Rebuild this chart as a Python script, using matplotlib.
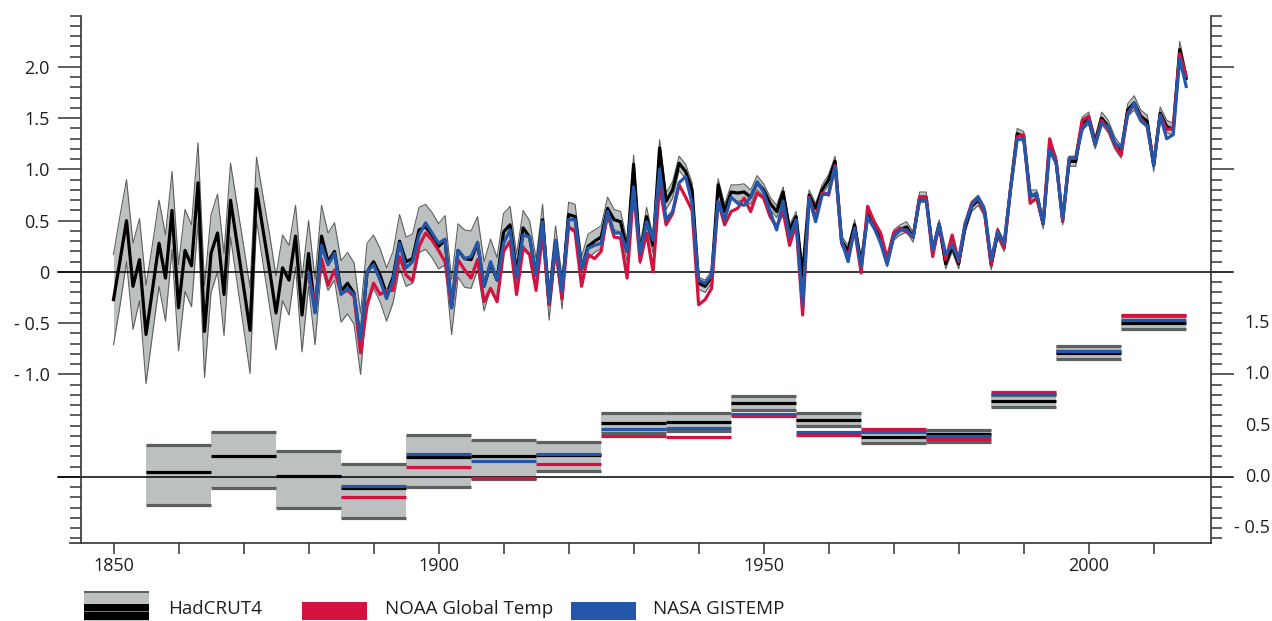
import matplotlib
matplotlib.use("Agg")
import matplotlib.pyplot as plt
import numpy as np
from matplotlib.patches import Rectangle
from matplotlib.ticker import FixedLocator, MultipleLocator, NullFormatter, FixedFormatter

plt.rcParams['font.family'] = ['Open Sans', 'DejaVu Sans']

# ---- annual anomalies (upper panel) ----
had_years = np.arange(1850, 2016)
hadcrut = [
    -0.27, 0.11, 0.50, -0.14, 0.12, -0.61, -0.17, 0.28, -0.06, 0.60,
    -0.35, 0.21, 0.06, 0.87, -0.58, 0.18, 0.38, -0.22, 0.70, 0.28,
    -0.14, -0.57, 0.81, 0.41, 0.02, -0.40, 0.04, -0.08, 0.35, -0.42,
    0.18, -0.39, 0.35, 0.10, 0.20, -0.19, -0.11, -0.21, -0.70, 0.00,
    0.10, -0.03, -0.22, -0.05, 0.30, 0.10, 0.13, 0.41, 0.44, 0.36,
    0.25, 0.31, -0.34, 0.21, 0.13, 0.12, 0.28, -0.14, 0.08, -0.08,
    0.39, 0.46, -0.01, 0.43, 0.34, -0.03, 0.51, -0.31, 0.30, -0.21,
    0.56, 0.54, 0.03, 0.25, 0.30, 0.34, 0.62, 0.51, 0.49, 0.20,
    1.05, 0.17, 0.54, 0.26, 1.21, 0.69, 0.80, 1.06, 0.98, 0.80,
    -0.11, -0.14, -0.05, 0.85, 0.59, 0.78, 0.77, 0.78, 0.73, 0.87,
    0.80, 0.67, 0.59, 0.78, 0.41, 0.54, -0.03, 0.75, 0.62, 0.80,
    0.90, 1.08, 0.30, 0.21, 0.46, 0.08, 0.56, 0.46, 0.34, 0.10,
    0.36, 0.41, 0.44, 0.34, 0.73, 0.73, 0.20, 0.46, 0.08, 0.25,
    0.08, 0.44, 0.64, 0.70, 0.59, 0.07, 0.38, 0.25, 0.82, 1.35,
    1.32, 0.75, 0.75, 0.47, 1.24, 1.08, 0.51, 1.08, 1.08, 1.45,
    1.50, 1.26, 1.50, 1.42, 1.26, 1.17, 1.58, 1.65, 1.52, 1.47,
    1.04, 1.55, 1.42, 1.39, 2.17, 1.89,
]
# half width of the HadCRUT4 uncertainty band
had_unc = [
    0.44, 0.44, 0.40, 0.42, 0.40, 0.48, 0.44, 0.42, 0.42, 0.38,
    0.42, 0.40, 0.40, 0.39, 0.45, 0.38, 0.38, 0.40, 0.36, 0.38,
    0.40, 0.42, 0.31, 0.33, 0.35, 0.36, 0.32, 0.34, 0.30, 0.36,
    0.32, 0.32, 0.30, 0.28, 0.28, 0.30, 0.30, 0.30, 0.30, 0.28,
    0.26, 0.26, 0.26, 0.25, 0.26, 0.24, 0.24, 0.22, 0.22, 0.22,
    0.22, 0.24, 0.27, 0.26, 0.28, 0.28, 0.26, 0.24, 0.24, 0.22,
    0.18, 0.18, 0.18, 0.17, 0.16, 0.16, 0.15, 0.16, 0.15, 0.15,
    0.12, 0.12, 0.12, 0.12, 0.11, 0.11, 0.11, 0.10, 0.10, 0.10,
    0.09, 0.09, 0.09, 0.08, 0.08, 0.08, 0.08, 0.07, 0.07, 0.07,
    0.06, 0.06, 0.06, 0.06, 0.07, 0.07, 0.08, 0.08, 0.07, 0.07,
    0.06, 0.06, 0.06, 0.05, 0.05, 0.05, 0.05, 0.05, 0.05, 0.05,
    0.05, 0.05, 0.05, 0.05, 0.05, 0.05, 0.05, 0.05, 0.05, 0.05,
    0.05, 0.05, 0.05, 0.05, 0.05, 0.05, 0.05, 0.05, 0.05, 0.05,
    0.05, 0.05, 0.05, 0.05, 0.05, 0.05, 0.05, 0.05, 0.05, 0.05,
    0.05, 0.05, 0.05, 0.05, 0.05, 0.05, 0.05, 0.05, 0.05, 0.06,
    0.06, 0.06, 0.06, 0.06, 0.06, 0.06, 0.06, 0.07, 0.06, 0.06,
    0.06, 0.06, 0.06, 0.06, 0.08, 0.06,
]

gis_years = np.arange(1880, 2016)
noaa = [
    -0.05, -0.30, 0.13, -0.13, 0.02, -0.21, -0.18, -0.24, -0.79, -0.33,
    -0.11, -0.22, -0.18, -0.18, 0.15, -0.03, -0.09, 0.25, 0.38, 0.31,
    0.21, 0.10, -0.35, 0.12, 0.02, -0.06, 0.12, -0.29, -0.16, -0.29,
    0.20, 0.30, -0.22, 0.23, 0.17, -0.18, 0.38, -0.32, 0.25, -0.26,
    0.44, 0.39, -0.14, 0.17, 0.13, 0.20, 0.57, 0.34, 0.33, -0.06,
    0.80, 0.10, 0.38, 0.00, 0.85, 0.46, 0.57, 0.85, 0.73, 0.60,
    -0.32, -0.27, -0.16, 0.69, 0.46, 0.59, 0.62, 0.72, 0.59, 0.77,
    0.72, 0.54, 0.44, 0.59, 0.26, 0.47, -0.42, 0.73, 0.52, 0.77,
    0.75, 1.04, 0.28, 0.15, 0.41, -0.01, 0.64, 0.49, 0.38, 0.13,
    0.38, 0.43, 0.39, 0.34, 0.73, 0.73, 0.15, 0.47, 0.12, 0.36,
    0.10, 0.47, 0.67, 0.72, 0.57, 0.07, 0.41, 0.23, 0.82, 1.32,
    1.34, 0.67, 0.72, 0.47, 1.30, 1.08, 0.49, 1.11, 1.11, 1.48,
    1.52, 1.24, 1.48, 1.39, 1.24, 1.14, 1.55, 1.63, 1.50, 1.42,
    1.06, 1.53, 1.39, 1.40, 2.13, 1.91,
]
nasa = [
    -0.01, -0.40, 0.26, 0.07, 0.18, -0.22, -0.16, -0.22, -0.66, 0.00,
    0.07, -0.08, -0.26, -0.08, 0.28, 0.04, 0.10, 0.36, 0.48, 0.38,
    0.28, 0.32, -0.35, 0.21, 0.13, 0.15, 0.29, -0.14, 0.10, -0.08,
    0.28, 0.41, -0.06, 0.36, 0.34, -0.03, 0.49, -0.29, 0.31, -0.19,
    0.51, 0.51, 0.03, 0.23, 0.26, 0.28, 0.59, 0.38, 0.38, 0.20,
    0.83, 0.18, 0.49, 0.31, 1.00, 0.51, 0.59, 0.87, 0.93, 0.67,
    -0.08, -0.11, -0.03, 0.69, 0.51, 0.73, 0.67, 0.65, 0.73, 0.88,
    0.78, 0.59, 0.41, 0.69, 0.34, 0.51, -0.32, 0.72, 0.49, 0.75,
    0.77, 1.03, 0.30, 0.10, 0.43, 0.05, 0.54, 0.43, 0.28, 0.07,
    0.34, 0.41, 0.41, 0.34, 0.70, 0.70, 0.21, 0.47, 0.17, 0.26,
    0.12, 0.47, 0.65, 0.73, 0.60, 0.12, 0.39, 0.28, 0.82, 1.29,
    1.30, 0.73, 0.77, 0.47, 1.19, 1.06, 0.51, 1.11, 1.11, 1.39,
    1.48, 1.24, 1.45, 1.42, 1.26, 1.21, 1.53, 1.65, 1.48, 1.43,
    1.04, 1.53, 1.30, 1.34, 2.08, 1.81,
]

# ---- decadal means (lower panel, right-hand scale) ----
dec_start = np.arange(1855, 2015, 10)
had_dec = [0.05, 0.20, 0.01, -0.11, 0.19, 0.20, 0.21, 0.53, 0.54, 0.72, 0.56, 0.39, 0.42, 0.74, 1.21, 1.50]
had_dec_lo = [-0.27, -0.11, -0.30, -0.40, -0.10, -0.02, 0.06, 0.43, 0.45, 0.65, 0.50, 0.33, 0.34, 0.68, 1.15, 1.44]
had_dec_hi = [0.31, 0.44, 0.25, 0.13, 0.41, 0.36, 0.34, 0.62, 0.62, 0.79, 0.62, 0.45, 0.46, 0.80, 1.28, 1.57]
gis_dec_start = np.arange(1885, 2015, 10)
noaa_dec = [-0.20, 0.10, -0.01, 0.13, 0.40, 0.39, 0.59, 0.41, 0.47, 0.37, 0.83, 1.23, 1.58]
nasa_dec = [-0.09, 0.22, 0.16, 0.22, 0.47, 0.48, 0.61, 0.44, 0.44, 0.40, 0.81, 1.23, 1.53]

right_ticks = [1.5, 1.0, 0.5, 0.0, -0.5]
right_labels = ['1.5', '1.0', '0.5', '0.0', '- 0.5']
left_ticks = [2.0, 1.5, 1.0, 0.5, 0.0, -0.5, -1.0, -2.0]
left_labels = ['2.0', '1.5', '1.0', '0.5', '0', '- 0.5', '- 1.0', '']

offset = -2.0   # lower panel sits 2 units below the upper one

RED = '#d4123f'
BLUE = '#2457a9'
BAND = '#bdc0c0'
EDGE = '#5d6060'
TICK = '#333333'
TXT = '#1e1e1e'
W, H = 1272, 621

fig = plt.figure(figsize=(W / 100, H / 100), dpi=100)
ax = fig.add_axes([81 / W, 78 / H, 1129.7 / W, 527.25 / H])
ax.set_xlim(1845.0, 2018.77)
ax.set_ylim(-2.645, 2.5)

had = np.array(hadcrut)
unc = np.array(had_unc)

# annual band and lines
ax.fill_between(had_years, had - unc, had + unc, color=BAND, lw=0, zorder=1)
ax.plot(had_years, had + unc, color=EDGE, lw=0.8, zorder=1.5)
ax.plot(had_years, had - unc, color=EDGE, lw=0.8, zorder=1.5)
ax.plot(had_years, had, color='black', lw=2.3, zorder=3)
ax.plot(gis_years, noaa, color=RED, lw=2.3, zorder=4)
ax.plot(gis_years, nasa, color=BLUE, lw=2.3, zorder=5)

# decadal boxes
lo = np.array(had_dec_lo) + offset
hi = np.array(had_dec_hi) + offset
for s, l, h in zip(dec_start, lo, hi):
    ax.fill_between([s, s + 10], l, h, color=BAND, lw=0, zorder=1)
ax.hlines(lo, dec_start, dec_start + 10, color=EDGE, lw=2.3, zorder=2)
ax.hlines(hi, dec_start, dec_start + 10, color=EDGE, lw=2.3, zorder=2)
ax.hlines(np.array(had_dec) + offset, dec_start, dec_start + 10, color='black', lw=2.3, zorder=3)
ax.hlines(np.array(noaa_dec) + offset, gis_dec_start, gis_dec_start + 10, color=RED, lw=2.3, zorder=4)
ax.hlines(np.array(nasa_dec) + offset, gis_dec_start, gis_dec_start + 10, color=BLUE, lw=2.3, zorder=5)

# zero lines of both panels, reaching across the tick marks
for y0 in (0.0, offset):
    ax.plot([-0.0204, 1.019], [y0, y0], color='black', lw=1.1, zorder=1.8,
            transform=ax.get_yaxis_transform(), clip_on=False)
# bottom axis line, running a little past the left spine
ax.plot([-0.0097, 1.0], [0, 0], color=TICK, lw=1.2, transform=ax.transAxes, clip_on=False, zorder=6)

for side in ('top', 'right', 'bottom'):
    ax.spines[side].set_visible(False)
ax.spines['left'].set_color(TICK)
ax.spines['left'].set_linewidth(1.2)

ax.yaxis.set_major_locator(FixedLocator(left_ticks))
ax.yaxis.set_major_formatter(FixedFormatter(left_labels))
ax.yaxis.set_minor_locator(MultipleLocator(0.1))
ax.tick_params(axis='y', which='major', direction='out', length=16.5, width=1.1, color=TICK,
               labelsize=13, pad=6, labelcolor=TXT)
ax.tick_params(axis='y', which='minor', direction='out', length=8, width=1.1, color=TICK)

ax.xaxis.set_major_locator(FixedLocator([1850, 1900, 1950, 2000]))
ax.xaxis.set_minor_locator(MultipleLocator(10))
ax.tick_params(axis='x', which='both', direction='out', length=8, width=1.1, color=TICK,
               labelsize=13, pad=2, labelcolor=TXT)

# right-hand axis for the decadal panel
ax2 = ax.twinx()
ax2.set_ylim(ax.get_ylim())
for side in ('top', 'left', 'bottom'):
    ax2.spines[side].set_visible(False)
ax2.spines['right'].set_color(TICK)
ax2.spines['right'].set_linewidth(1.2)
ax2.yaxis.set_major_locator(FixedLocator([2, 1, 0, -1, -2]))
ax2.yaxis.set_major_formatter(NullFormatter())
ax2.yaxis.set_minor_locator(MultipleLocator(0.1))
ax2.tick_params(axis='y', which='major', direction='out', length=16.5, width=1.1, color=TICK)
ax2.tick_params(axis='y', which='minor', direction='out', length=8, width=1.1, color=TICK)
for v, lab in zip(right_ticks, right_labels):
    ax2.text(1.0525, v + offset, lab, ha='right', va='center', fontsize=13, color=TXT,
             transform=ax2.get_yaxis_transform(), clip_on=False)


# ---- legend along the bottom edge ----
def px_rect(x0, y0, x1, y1, **kw):
    fig.add_artist(Rectangle((x0 / W, 1 - y1 / H), (x1 - x0) / W, (y1 - y0) / H,
                             transform=fig.transFigure, **kw))


px_rect(84, 591, 149, 621, facecolor=BAND, lw=0)
px_rect(84, 590.5, 149, 593, facecolor=EDGE, lw=0)
px_rect(84, 604, 149, 620, facecolor='black', lw=0)
px_rect(84, 611, 149, 612.2, facecolor='#777777', lw=0)
px_rect(302, 602, 367, 620, facecolor=RED, lw=0)
px_rect(571, 602, 636, 620, facecolor=BLUE, lw=0)
for x0, lab in ((168, 'HadCRUT4'), (385, 'NOAA Global Temp'), (653, 'NASA GISTEMP')):
    fig.text(x0 / W, 1 - 609 / H, lab, ha='left', va='center', fontsize=13.5, color=TXT)

fig.savefig('out.png', dpi=100)
